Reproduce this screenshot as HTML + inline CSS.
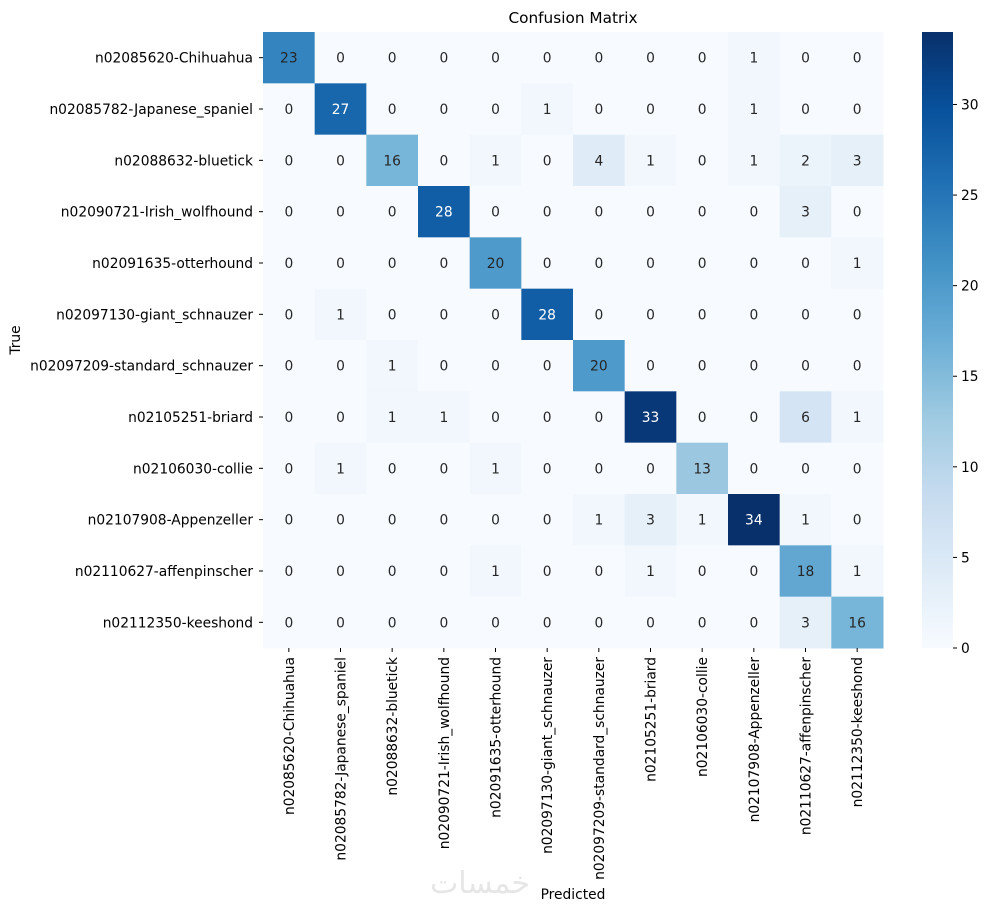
<!DOCTYPE html>
<html><head><meta charset="utf-8"><style>
body{margin:0;background:#fff;}
svg text{font-family:"DejaVu Sans","Liberation Sans",sans-serif;}
</style></head><body>
<svg id="chart" width="990" height="911" viewBox="0 0 990 911">
<defs><linearGradient id="cbg" x1="0" y1="1" x2="0" y2="0">
<stop offset="0" stop-color="#f7fbff"/><stop offset="0.125" stop-color="#deebf7"/><stop offset="0.25" stop-color="#c6dbef"/><stop offset="0.375" stop-color="#9ecae1"/><stop offset="0.5" stop-color="#6baed6"/><stop offset="0.625" stop-color="#4292c6"/><stop offset="0.75" stop-color="#2171b5"/><stop offset="0.875" stop-color="#08519c"/><stop offset="1" stop-color="#08306b"/></linearGradient></defs>
<text x="573" y="23" text-anchor="middle" font-size="15.3" fill="#000">Confusion Matrix</text>
<g id="cells"></g>
<text x="20" y="340" font-size="13.8" text-anchor="middle" transform="rotate(-90 20 340)" fill="#000">True</text>
<text x="573" y="899" font-size="13.8" text-anchor="middle" fill="#000">Predicted</text>
<text x="480" y="893" font-size="30" text-anchor="middle" fill="#e6e6e6">خمسات</text>
<rect x="922" y="32" width="31" height="616" fill="url(#cbg)"/>
<g id="cbticks"></g>
</svg>
<script>
const labels=["n02085620-Chihuahua","n02085782-Japanese_spaniel","n02088632-bluetick","n02090721-Irish_wolfhound","n02091635-otterhound","n02097130-giant_schnauzer","n02097209-standard_schnauzer","n02105251-briard","n02106030-collie","n02107908-Appenzeller","n02110627-affenpinscher","n02112350-keeshond"];
const matrix=[
[23,0,0,0,0,0,0,0,0,1,0,0],
[0,27,0,0,0,1,0,0,0,1,0,0],
[0,0,16,0,1,0,4,1,0,1,2,3],
[0,0,0,28,0,0,0,0,0,0,3,0],
[0,0,0,0,20,0,0,0,0,0,0,1],
[0,1,0,0,0,28,0,0,0,0,0,0],
[0,0,1,0,0,0,20,0,0,0,0,0],
[0,0,1,1,0,0,0,33,0,0,6,1],
[0,1,0,0,1,0,0,0,13,0,0,0],
[0,0,0,0,0,0,1,3,1,34,1,0],
[0,0,0,0,1,0,0,1,0,0,18,1],
[0,0,0,0,0,0,0,0,0,0,3,16]];
const cbTicks=[0,5,10,15,20,25,30];
const vmin=0,vmax=34;
const X0=263,Y0=32,W=620,H=616,n=labels.length,cw=W/n,ch=H/n;
const FS=13.8;
const stops=["#f7fbff","#deebf7","#c6dbef","#9ecae1","#6baed6","#4292c6","#2171b5","#08519c","#08306b"].map(h=>[1,3,5].map(i=>parseInt(h.substr(i,2),16)));
function color(v){let t=(v-vmin)/(vmax-vmin)*(stops.length-1);let i=Math.min(Math.floor(t),stops.length-2),f=t-i;const c=stops[i].map((a,k)=>Math.round(a+(stops[i+1][k]-a)*f));return {s:`rgb(${c})`,l:(0.299*c[0]+0.587*c[1]+0.114*c[2])/255};}
const NS="http://www.w3.org/2000/svg";
const g=document.getElementById("cells");
function mk(tag,attrs,txt){const e=document.createElementNS(NS,tag);for(const k in attrs)e.setAttribute(k,attrs[k]);if(txt!==undefined)e.textContent=txt;return e;}
const xs=i=>X0+i*cw, ys=j=>Y0+j*ch;
matrix.forEach((row,r)=>row.forEach((v,c)=>{
 const col=color(v);
 const rect=mk("rect",{x:xs(c),y:ys(r),width:cw+0.5,height:ch+0.5,fill:col.s});
 
 
 g.appendChild(rect);
 const t=mk("text",{x:xs(c)+cw/2,y:ys(r)+ch/2+5,"text-anchor":"middle","font-size":FS,fill:col.l<0.45?"#fff":"#262626"},v);
 
 
 g.appendChild(t);
}));
labels.forEach((l,i)=>{
 const cy=ys(i)+ch/2;
 g.appendChild(mk("line",{x1:X0-4,x2:X0,y1:cy,y2:cy,stroke:"#000"}));
 const t=mk("text",{x:X0-10,y:cy+5,"text-anchor":"end","font-size":FS,fill:"#000"},l);
 
 
 g.appendChild(t);
 const cx=xs(i)+cw/2;
 g.appendChild(mk("line",{x1:cx,x2:cx,y1:Y0+H,y2:Y0+H+4,stroke:"#000"}));
 const tx=mk("text",{x:cx+5,y:Y0+H+9,"text-anchor":"end","font-size":FS,fill:"#000",transform:`rotate(-90 ${cx+5} ${Y0+H+9})`},l);
 
 
 g.appendChild(tx);
});
const cb=document.getElementById("cbticks");
cbTicks.forEach(v=>{
 const y=648-(v-vmin)/(vmax-vmin)*616;
 cb.appendChild(mk("line",{x1:953,x2:957,y1:y,y2:y,stroke:"#000"}));
 const t=mk("text",{x:961,y:y+5,"font-size":FS,fill:"#000"},v);
 
 
 cb.appendChild(t);
});
</script>
</body></html>
